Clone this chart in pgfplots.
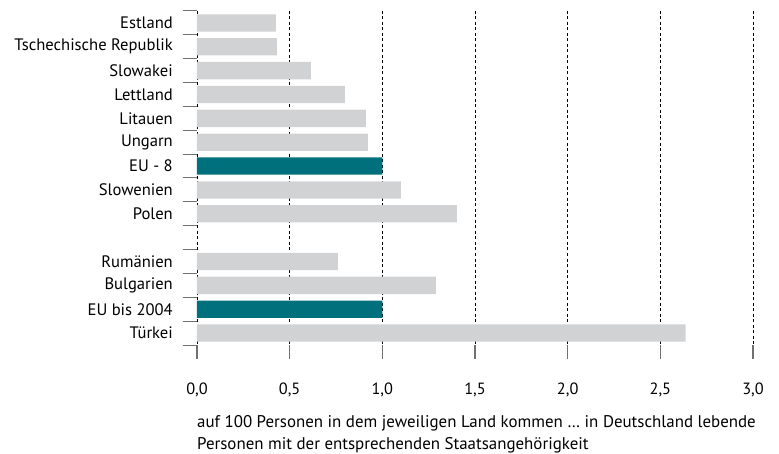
\documentclass[border=0pt]{standalone}
\usepackage{pgfplots}
\pgfplotsset{compat=1.18}
\usepackage{fontspec}
\setmainfont{PT Sans}
\definecolor{bargray}{HTML}{D1D2D4}
\definecolor{barteal}{HTML}{00717C}
\definecolor{tickgray}{HTML}{707070}
\begin{document}
\begin{tikzpicture}[font=\fontsize{16.6}{20}\selectfont]
\useasboundingbox (-197pt,-109pt) rectangle (582pt,345pt);
\begin{axis}[
  at={(0,0)}, anchor=south west,
  width=556pt, height=334pt, scale only axis,
  xmin=0, xmax=3, ymin=0.5, ymax=14.5, y dir=reverse,
  axis x line*=bottom, axis y line*=left,
  axis line style={draw=none},
  tick align=outside,
  major tick length=0pt,
  minor tick length=14pt,
  xtick={0,0.5,...,3},
  minor xtick={0,0.5,...,3},
  xmajorgrids,
  grid style={black, line width=0.9pt, dash pattern=on 3pt off 2.5pt},
  xtick style={tickgray, line width=1.3pt},
  ytick={1,2,...,14},
  yticklabels={Estland,Tschechische Republik,Slowakei,Lettland,Litauen,Ungarn,EU - 8,Slowenien,Polen,{},Rumänien,Bulgarien,EU bis 2004,Türkei},
  minor ytick={0.5,1.5,...,14.5},
  ytick style={tickgray, line width=1pt},
  yticklabel style={anchor=east, inner sep=0pt, xshift=-24pt},
  xticklabel style={inner sep=0pt, yshift=-38pt, font=\fontsize{16.3}{20}\selectfont},
  /pgf/number format/.cd, use comma, fixed, fixed zerofill, precision=1, assume math mode=true,
  /pgfplots/.cd,
  xbar, bar width=17.3pt, bar shift=0pt,
  clip=false,
]
\addplot[draw=none, fill=bargray] coordinates {
  (0.426,1) (0.431,2) (0.615,3) (0.798,4) (0.911,5) (0.922,6)
  (1.100,8) (1.402,9) (0.760,11) (1.289,12) (2.636,14)
};
\addplot[draw=none, fill=barteal] coordinates {
  (1.0,7) (1.0,13)
};
\node[anchor=north west, align=left, inner sep=0pt, font=\fontsize{16.9}{22.5}\selectfont] at (axis description cs:0,0) [yshift=-70pt] {auf 100 Personen in dem jeweiligen Land kommen \dots\ in Deutschland lebende\\Personen mit der entsprechenden Staatsangehörigkeit};
\end{axis}
\end{tikzpicture}
\end{document}
